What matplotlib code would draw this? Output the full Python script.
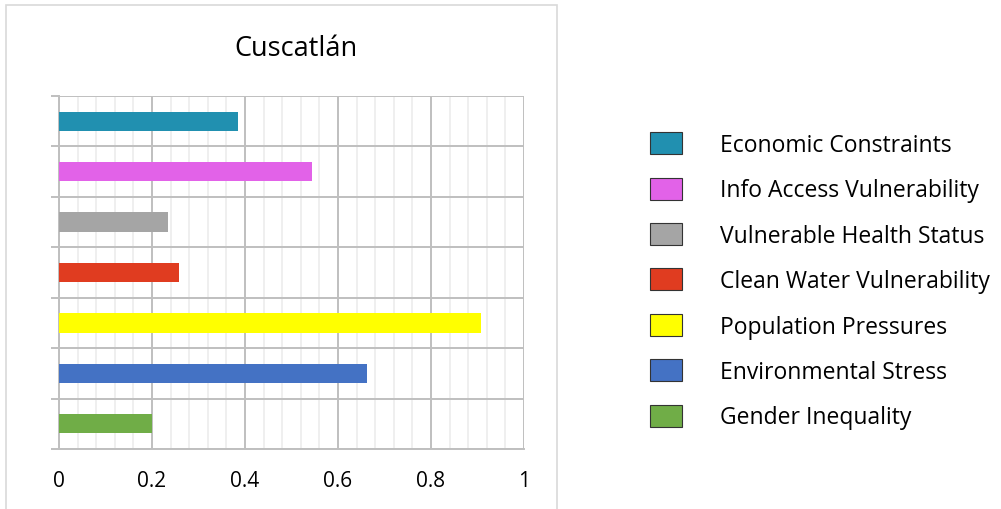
#!/usr/bin/env python3
"""Cuscatlán vulnerability components - horizontal bar chart."""

import matplotlib
matplotlib.use('Agg')
import matplotlib.pyplot as plt
from matplotlib.patches import Patch, Rectangle
from matplotlib.ticker import MultipleLocator

# Data (bottom to top, as drawn)
categories = [
    'Gender Inequality', 'Environmental Stress', 'Population Pressures',
    'Clean Water Vulnerability', 'Vulnerable Health Status',
    'Info Access Vulnerability', 'Economic Constraints',
]
values = [0.199, 0.662, 0.908, 0.258, 0.234, 0.544, 0.385]
colors = ['#70ad47', '#4472c4', '#ffff00', '#e03c20', '#a5a5a5', '#e262e8', '#2190b0']
x_ticks = [0, 0.2, 0.4, 0.6, 0.8, 1.0]
x_tick_labels = ['0', '0.2', '0.4', '0.6', '0.8', '1']

plt.rcParams['font.family'] = ['Open Sans', 'DejaVu Sans']

W, H = 1001, 510
fig = plt.figure(figsize=(W / 100, H / 100), dpi=100)

# outer chart frame
fig.patches.append(Rectangle((6 / W, -0.05), 551 / W, 1.05 - 6 / H,
                             transform=fig.transFigure, fill=False,
                             edgecolor='#d9d9d9', linewidth=1.2))

ax = fig.add_axes([59 / W, 1 - 450 / H, 465 / W, 353 / H])
ypos = list(range(len(categories)))
ax.barh(ypos, values, height=0.38, color=colors, zorder=3)

ax.set_xlim(0, 1)
ax.set_ylim(-0.5, len(categories) - 0.5)
ax.set_xticks(x_ticks)
ax.set_xticklabels(x_tick_labels, fontsize=15)
ax.xaxis.set_minor_locator(MultipleLocator(0.04))
ax.set_yticks([y - 0.5 for y in range(len(categories) + 1)])
ax.set_yticklabels([])

major_c = '#bfbfbf'
ax.grid(True, which='major', axis='both', color=major_c, linewidth=1.4, zorder=1)
ax.grid(True, which='minor', axis='x', color='#ececec', linewidth=1.2, zorder=0)
ax.tick_params(axis='x', which='both', length=0, pad=15)
ax.tick_params(axis='y', which='major', length=6, width=1.4, color=major_c, direction='out')
for side in ['top', 'right']:
    ax.spines[side].set_visible(False)
for side in ['left', 'bottom']:
    ax.spines[side].set_color(major_c)
    ax.spines[side].set_linewidth(1.4)

fig.text(296 / W, 1 - 49 / H, 'Cuscatlán', fontsize=19.5, ha='center', va='center')

# legend, top to bottom
handles = [Patch(facecolor=c, edgecolor='#333333', linewidth=0.8) for c in colors[::-1]]
fig.legend(handles, categories[::-1], loc='upper left',
           bbox_to_anchor=(641 / W, 1 - 124 / H), frameon=False,
           fontsize=16.5, handlelength=1.4, handleheight=1.1,
           handletextpad=1.65, labelspacing=0.9, borderaxespad=0)

fig.savefig('out.png', dpi=100)
